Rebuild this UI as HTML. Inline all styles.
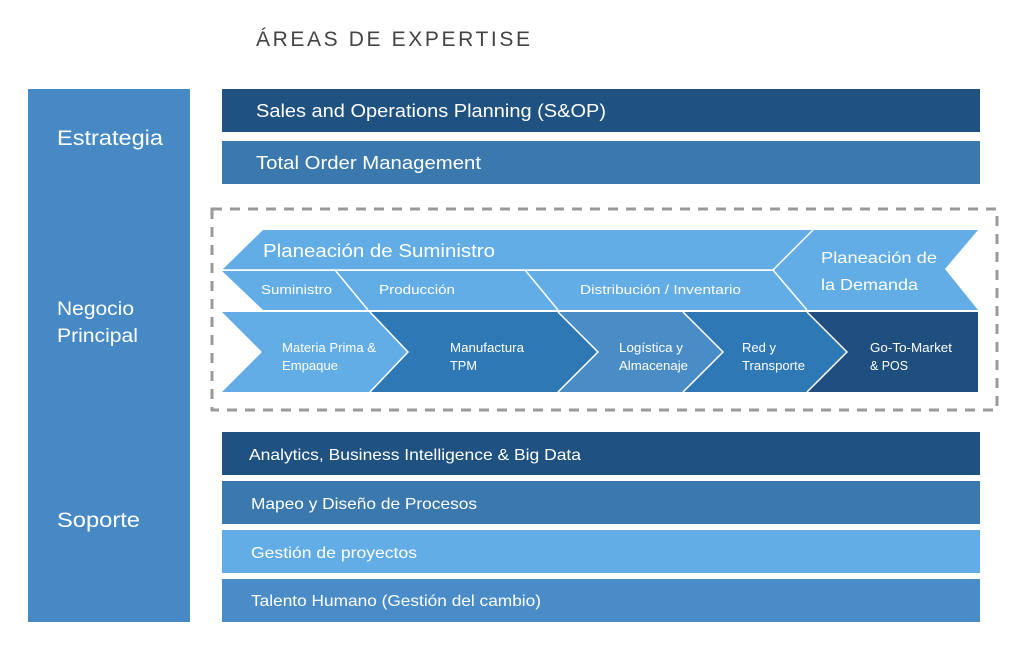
<!DOCTYPE html>
<html><head><meta charset="utf-8"><style>
html,body{margin:0;padding:0;background:#fff;}
svg{display:block;}
text{font-family:"Liberation Sans",sans-serif;fill:#fff;}
</style></head><body>
<svg width="1016" height="663" viewBox="0 0 1016 663" xmlns="http://www.w3.org/2000/svg">
<text x="256" y="46" style="fill:#444;font-size:21px" textLength="274" lengthAdjust="spacing">ÁREAS DE EXPERTISE</text>
<rect x="28" y="89" width="162" height="533" fill="#4689c4"/>
<text x="57" y="145" font-size="21" textLength="106" lengthAdjust="spacingAndGlyphs">Estrategia</text>
<text x="57" y="315" font-size="19" textLength="77" lengthAdjust="spacingAndGlyphs">Negocio</text>
<text x="57" y="342" font-size="19" textLength="81" lengthAdjust="spacingAndGlyphs">Principal</text>
<text x="57" y="527" font-size="21" textLength="83" lengthAdjust="spacingAndGlyphs">Soporte</text>

<rect x="222" y="89" width="758" height="43" fill="#1f5181"/>
<text x="256" y="117" font-size="18" textLength="350" lengthAdjust="spacingAndGlyphs">Sales and Operations Planning (S&amp;OP)</text>
<rect x="222" y="141" width="758" height="43" fill="#3a78ad"/>
<text x="256" y="169" font-size="18" textLength="225" lengthAdjust="spacingAndGlyphs">Total Order Management</text>

<rect x="212" y="209" width="785" height="201" fill="none" stroke="#9a9a9a" stroke-width="3" stroke-dasharray="10,8"/>

<polygon points="263,230 813,230 773,270 222,270" fill="#62ade6"/>
<polygon points="813,230 978,230 945,269 978,310 807,310 773,270" fill="#62ade6"/>
<line x1="813" y1="230" x2="773" y2="270" stroke="#fff" stroke-width="1.5"/>
<line x1="222" y1="270" x2="773" y2="270" stroke="#fff" stroke-width="1.5"/>
<polygon points="222,271 773,271 807,310 263,310" fill="#62ade6"/>
<line x1="773" y1="270" x2="807" y2="310" stroke="#fff" stroke-width="1.5"/>
<line x1="335" y1="270" x2="368" y2="310" stroke="#fff" stroke-width="1.5"/>
<line x1="525" y1="270" x2="558" y2="310" stroke="#fff" stroke-width="1.5"/>
<text x="263" y="257" font-size="18" textLength="232" lengthAdjust="spacingAndGlyphs">Planeación de Suministro</text>
<text x="821" y="263" font-size="16" textLength="116" lengthAdjust="spacingAndGlyphs">Planeación de</text>
<text x="821" y="290" font-size="16" textLength="97" lengthAdjust="spacingAndGlyphs">la Demanda</text>
<text x="261" y="294" font-size="13" textLength="71" lengthAdjust="spacingAndGlyphs">Suministro</text>
<text x="379" y="294" font-size="13" textLength="76" lengthAdjust="spacingAndGlyphs">Producción</text>
<text x="580" y="294" font-size="13" textLength="161" lengthAdjust="spacingAndGlyphs">Distribución / Inventario</text>

<polygon points="222,312 370,312 408,352 370,392 222,392 262,352" fill="#62ade6"/>
<polygon points="370,312 558,312 598,352 558,392 370,392 408,352" fill="#2f78b6"/>
<polygon points="558,312 683,312 723,352 683,392 558,392 598,352" fill="#4a8cc6"/>
<polygon points="683,312 807,312 847,352 807,392 683,392 723,352" fill="#2f78b6"/>
<polygon points="807,312 978,312 978,392 807,392 847,352" fill="#1f4f7e"/>
<g stroke="#fff" stroke-width="1.5" fill="none">
<polyline points="370,312 408,352 370,392"/>
<polyline points="558,312 598,352 558,392"/>
<polyline points="683,312 723,352 683,392"/>
<polyline points="807,312 847,352 807,392"/>
</g>
<g font-size="12.5">
<text x="282" y="352" textLength="94" lengthAdjust="spacingAndGlyphs">Materia Prima &amp;</text><text x="282" y="370" textLength="56" lengthAdjust="spacingAndGlyphs">Empaque</text>
<text x="450" y="352" textLength="74" lengthAdjust="spacingAndGlyphs">Manufactura</text><text x="450" y="370" textLength="27" lengthAdjust="spacingAndGlyphs">TPM</text>
<text x="619" y="352" textLength="64" lengthAdjust="spacingAndGlyphs">Logística y</text><text x="619" y="370" textLength="69" lengthAdjust="spacingAndGlyphs">Almacenaje</text>
<text x="742" y="352" textLength="34" lengthAdjust="spacingAndGlyphs">Red y</text><text x="742" y="370" textLength="63" lengthAdjust="spacingAndGlyphs">Transporte</text>
<text x="870" y="352" textLength="82" lengthAdjust="spacingAndGlyphs">Go-To-Market</text><text x="870" y="370" textLength="38" lengthAdjust="spacingAndGlyphs">&amp; POS</text>
</g>

<rect x="222" y="432" width="758" height="43" fill="#1f5181"/>
<text x="249" y="460" font-size="16" textLength="332" lengthAdjust="spacingAndGlyphs">Analytics, Business Intelligence &amp; Big Data</text>
<rect x="222" y="481" width="758" height="43" fill="#3a78ad"/>
<text x="251" y="509" font-size="16" textLength="226" lengthAdjust="spacingAndGlyphs">Mapeo y Diseño de Procesos</text>
<rect x="222" y="530" width="758" height="43" fill="#62ade6"/>
<text x="251" y="558" font-size="16" textLength="166" lengthAdjust="spacingAndGlyphs">Gestión de proyectos</text>
<rect x="222" y="579" width="758" height="43" fill="#4a8cc8"/>
<text x="251" y="606" font-size="16" textLength="290" lengthAdjust="spacingAndGlyphs">Talento Humano (Gestión del cambio)</text>
</svg>
</body></html>
